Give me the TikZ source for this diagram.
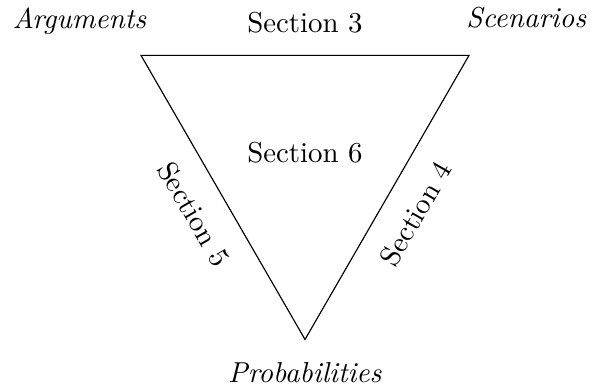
\documentclass[tikz,border=0pt]{standalone}
\usepackage{tikz}
\usetikzlibrary{positioning}

\begin{document}
\begin{tikzpicture}[lbl/.style={outer sep=1.6mm}]
    \useasboundingbox (-3.72,-0.60) rectangle (3.50,4.14);

    % --- Corners ---
    \coordinate (A) at (-2, 3.464);
    \coordinate (S) at (2, 3.464);
    \coordinate (P) at (0, 0);

    % --- Triangle and its sides ---
    \draw (A) -- node[lbl, above] (sec3) {Section 3}
          (S) -- node[lbl, below, sloped] (sec4) {Section 4}
          (P) -- node[lbl, below, sloped] (sec5) {Section 5} cycle;
    \node (sec6) at (0, 2.28) {Section 6};

    % --- Corner labels ---
    \node (args) at (-2.75, 3.88) {\textit{Arguments}};
    \node (scen) at (2.70, 3.92) {\textit{Scenarios}};
    \node (prob) at (0, -0.40) {\textit{Probabilities}};

\end{tikzpicture}
\end{document}
